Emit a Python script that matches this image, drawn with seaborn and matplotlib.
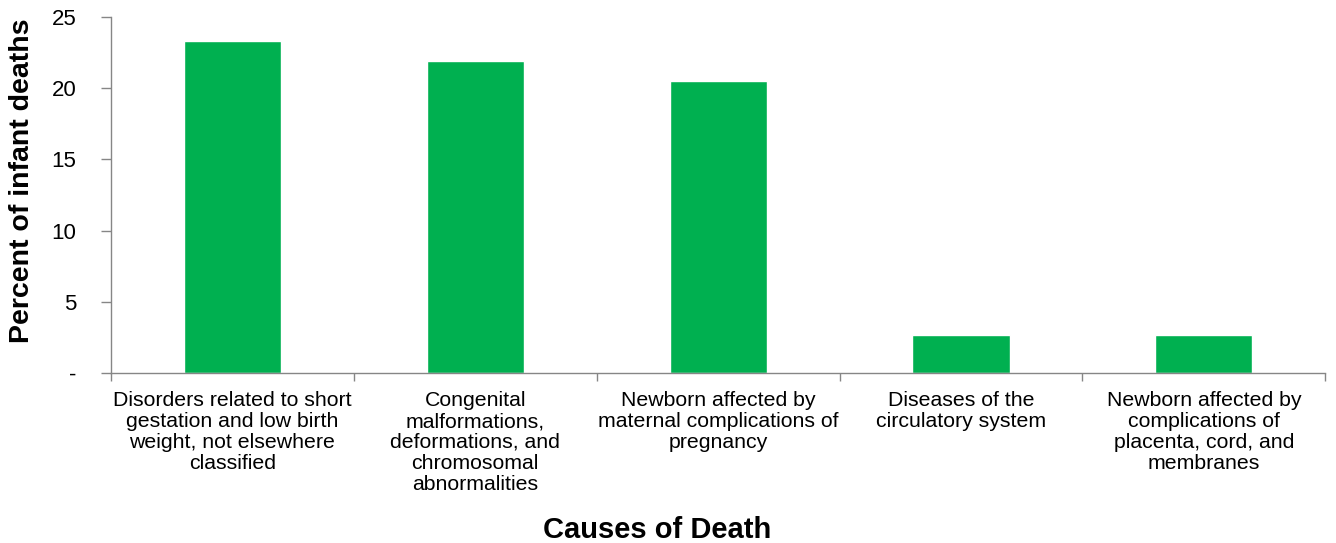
import pandas as pd
import matplotlib.pyplot as plt
import seaborn as sns
from matplotlib.ticker import FuncFormatter, FixedLocator

causes = [
    'Disorders related to short\ngestation and low birth\nweight, not elsewhere\nclassified',
    'Congenital\nmalformations,\ndeformations, and\nchromosomal\nabnormalities',
    'Newborn affected by\nmaternal complications of\npregnancy',
    'Diseases of the\ncirculatory system',
    'Newborn affected by\ncomplications of\nplacenta, cord, and\nmembranes',
]
percent = [23.3, 21.9, 20.5, 2.7, 2.7]
y_ticks = [0, 5, 10, 15, 20, 25]

df = pd.DataFrame({'cause': causes, 'percent': percent})

sns.set_style('white')
plt.rcParams['font.family'] = ['Liberation Sans', 'DejaVu Sans']

fig = plt.figure(figsize=(13.36, 5.43), dpi=100)
ax = fig.add_axes([0.083, 0.313, 0.909, 0.656])

sns.barplot(data=df, x='cause', y='percent', color='#00B050', width=0.4,
            saturation=1, ax=ax)

axis_color = '#868686'
ax.set_xlim(-0.5, len(causes) - 0.5)
ax.set_ylim(0, 25)
ax.set_yticks(y_ticks)
ax.yaxis.set_major_formatter(FuncFormatter(lambda v, p: '-' if v == 0 else f'{v:g}'))

# tick marks between categories on the x axis
ax.xaxis.set_minor_locator(FixedLocator([i - 0.5 for i in range(len(causes) + 1)]))
ax.tick_params(axis='x', which='major', length=0, pad=13, labelsize=15.3, labelcolor='black')
ax.tick_params(axis='x', which='minor', length=6, color=axis_color, width=1, bottom=True)
ax.tick_params(axis='y', length=7, color=axis_color, width=1, labelsize=16,
               labelcolor='black', left=True, pad=18)
for lab in ax.get_xticklabels():
    lab.set_linespacing(1.13)

for s in ['top', 'right']:
    ax.spines[s].set_visible(False)
for s in ['left', 'bottom']:
    ax.spines[s].set_color(axis_color)
    ax.spines[s].set_linewidth(1)

ax.set_xlabel('Causes of Death', fontsize=21, fontweight='bold', color='black')
ax.set_ylabel('Percent of infant deaths', fontsize=20.5, fontweight='bold', color='black')
ax.xaxis.label.set_va('center')
ax.yaxis.label.set_va('center')
ax.xaxis.set_label_coords(0.45, -0.441)
ax.yaxis.set_label_coords(-0.073, 0.54)

fig.savefig('out.png', dpi=100)
